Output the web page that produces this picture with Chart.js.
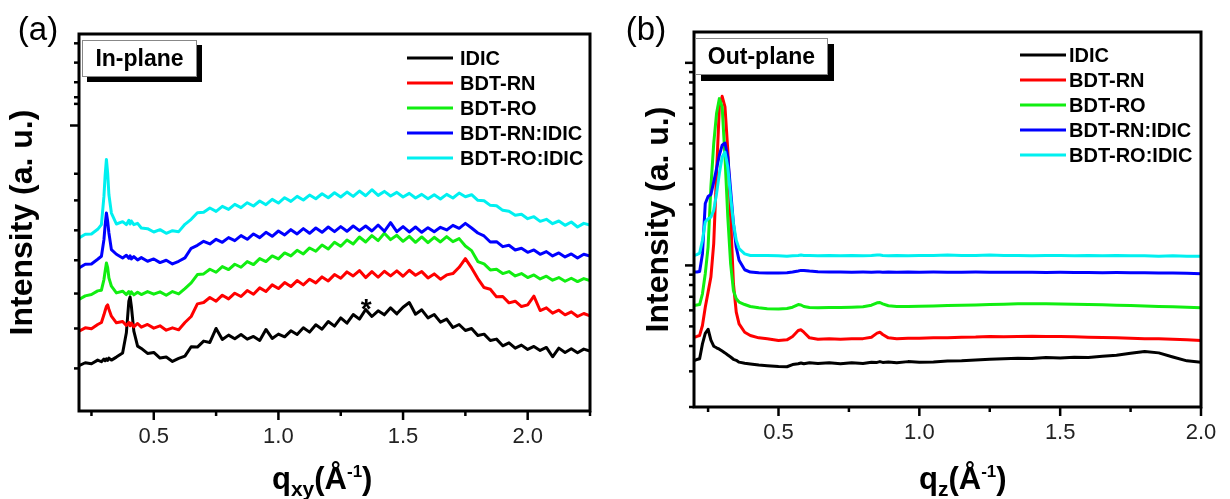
<!DOCTYPE html>
<html>
<head>
<meta charset="utf-8">
<script src="https://cdn.jsdelivr.net/npm/chart.js@4.4.0/dist/chart.umd.min.js"></script>
<style>
  body { margin: 0; background: #fff; }
  .wrap { display: flex; width: 1230px; height: 499px; }
  canvas { display: block; }
</style>
</head>
<body>
<div class="wrap">
  <canvas id="inPlane" width="615" height="499"></canvas>
  <canvas id="outPlane" width="615" height="499"></canvas>
</div>
<script>
// GIWAXS line cuts, in-plane (a) and out-of-plane (b)
var seriesNames = ['IDIC', 'BDT-RN', 'BDT-RO', 'BDT-RN:IDIC', 'BDT-RO:IDIC'];
var seriesColors = ['#000000', '#ff0000', '#11ee11', '#0000ff', '#00f0f0'];

// in-plane q_xy (1/A), finer sampling around the low-q peaks
var qxy = [0.20, 0.225, 0.25, 0.275, 0.29, 0.30, 0.305, 0.31, 0.315, 0.32, 0.33, 0.35, 0.375, 0.39, 0.40, 0.405, 0.41, 0.42, 0.435, 0.45, 0.475, 0.50,
  0.525, 0.55, 0.575, 0.60, 0.625, 0.65, 0.675, 0.70, 0.725, 0.75, 0.775, 0.80, 0.825, 0.85, 0.875, 0.90, 0.925, 0.95, 0.975, 1.00,
  1.025, 1.05, 1.075, 1.10, 1.125, 1.15, 1.175, 1.20, 1.225, 1.25, 1.275, 1.30, 1.325, 1.35, 1.375, 1.40, 1.425, 1.45, 1.475, 1.50,
  1.525, 1.55, 1.575, 1.60, 1.625, 1.65, 1.675, 1.70, 1.725, 1.75, 1.775, 1.80, 1.825, 1.85, 1.875, 1.90, 1.925, 1.95, 1.975, 2.00,
  2.025, 2.05, 2.075, 2.10, 2.125, 2.15, 2.175, 2.20, 2.225, 2.25];

// in-plane intensities (offset stack, a.u.)
var inIdic = [13.6, 14.5, 14.2, 15.3, 14.8, 15.6, 15.1, 15.7, 15.2, 15.9, 15.3, 16.2, 17.4, 23.5, 33.0, 34.3, 31.5, 24.0, 19.5, 18.8, 17.3, 17.6,
  15.9, 16.2, 14.9, 15.8, 16.5, 19.3, 19.2, 21.0, 20.6, 24.8, 21.5, 22.8, 21.7, 23.0, 21.6, 22.4, 21.2, 24.5, 21.8, 23.1,
  22.3, 24.1, 23.0, 25.0, 23.7, 25.9, 24.6, 26.9, 25.5, 28.0, 26.4, 29.0, 27.6, 30.5, 28.4, 30.1, 28.9, 31.0, 29.2, 31.2,
  32.6, 29.1, 30.4, 28.0, 29.0, 26.7, 27.6, 25.1, 26.0, 24.2, 24.8, 22.7, 23.1, 21.2, 21.6, 19.6, 20.5, 18.9, 19.8, 18.5,
  19.4, 18.2, 19.1, 16.3, 18.9, 17.6, 18.7, 17.5, 18.6, 18.0];
var inRN = [24.0, 25.0, 24.7, 26.0, 26.6, 28.9, 30.2, 31.4, 31.9, 30.6, 28.5, 26.5, 26.9, 25.7, 26.6, 25.6, 26.4, 25.3, 26.3, 25.2, 26.0, 24.9,
  25.6, 24.3, 25.0, 24.4, 26.6, 28.4, 32.2, 32.6, 34.1, 33.0, 34.8, 33.7, 35.4, 34.4, 36.2, 35.1, 37.0, 35.9, 37.9, 36.8,
  38.6, 37.4, 39.2, 37.9, 39.6, 38.5, 40.3, 39.1, 41.0, 39.9, 41.8, 40.6, 42.2, 40.1, 41.9, 40.2, 42.0, 40.6, 42.1, 40.5,
  42.3, 40.8, 41.9, 40.0, 41.2, 39.6, 40.9, 41.3, 43.2, 45.8, 43.0, 39.8, 37.1, 36.6, 34.3, 34.4, 32.5, 33.0, 31.4, 31.9,
  34.5, 30.2, 31.0, 29.4, 30.3, 28.9, 29.8, 28.4, 29.3, 28.6];
var inRO = [33.5, 34.6, 35.0, 36.1, 36.3, 39.5, 42.1, 44.5, 43.1, 40.0, 37.5, 35.5, 36.0, 35.0, 35.9, 35.1, 35.8, 34.9, 35.7, 35.0, 35.9, 35.1,
  35.8, 34.8, 35.9, 35.2, 36.8, 38.5, 41.0, 41.2, 42.6, 41.7, 43.4, 42.5, 44.1, 43.2, 44.9, 44.0, 45.8, 44.9, 46.6, 45.7,
  47.5, 46.6, 48.3, 47.2, 49.0, 48.0, 49.9, 48.7, 50.7, 49.5, 51.4, 50.2, 52.3, 50.8, 52.7, 51.2, 53.4, 51.5, 52.8, 51.0,
  52.5, 50.7, 52.3, 50.6, 52.2, 50.8, 52.4, 50.9, 51.8, 49.6, 48.2, 44.9, 44.2, 42.4, 42.6, 41.3, 41.9, 40.6, 41.3, 40.1,
  40.9, 39.7, 40.5, 39.3, 40.1, 39.0, 39.9, 38.9, 39.8, 39.2];
var inRNIdic = [43.0, 44.1, 44.2, 45.6, 46.5, 51.5, 56.0, 59.5, 57.0, 53.5, 48.5, 47.1, 46.0, 46.8, 45.9, 46.6, 45.7, 46.4, 45.4, 46.1, 45.0, 45.7,
  44.6, 45.3, 44.2, 45.0, 46.0, 48.9, 49.8, 51.0, 50.2, 51.6, 50.7, 52.1, 51.2, 52.7, 51.6, 53.2, 52.1, 53.7, 52.5, 54.1,
  52.9, 54.5, 53.2, 54.8, 53.4, 55.0, 53.7, 55.3, 53.9, 55.4, 54.0, 55.6, 54.2, 55.6, 54.1, 55.9, 54.0, 56.6, 53.9, 55.4,
  53.8, 55.3, 53.7, 55.1, 53.9, 55.2, 54.4, 55.8, 54.9, 56.4, 55.0, 53.5, 52.6, 50.8, 50.9, 49.4, 49.8, 48.4, 48.9, 47.7,
  48.4, 47.1, 47.9, 46.6, 47.5, 46.3, 47.2, 46.0, 47.1, 46.6];
var inROIdic = [52.0, 53.1, 53.2, 54.6, 56.0, 64.5, 71.0, 75.6, 71.5, 65.0, 59.5, 56.2, 56.9, 56.0, 57.3, 56.2, 57.1, 56.0, 56.4, 55.0, 54.8, 53.8,
  54.5, 53.4, 54.2, 53.9, 56.1, 57.6, 59.6, 59.7, 61.0, 60.0, 61.5, 60.6, 62.1, 61.1, 62.6, 61.6, 63.1, 62.0, 63.6, 62.5,
  64.1, 63.0, 64.5, 63.4, 64.9, 63.8, 65.3, 64.1, 65.6, 64.3, 65.8, 64.5, 66.1, 64.7, 66.5, 64.8, 66.0, 64.6, 65.7, 64.3,
  65.4, 64.0, 65.1, 63.8, 65.0, 63.7, 65.1, 64.0, 65.5, 64.4, 65.0, 63.3, 63.2, 61.8, 61.7, 60.3, 60.0, 58.8, 59.1, 57.8,
  58.4, 57.0, 57.6, 56.3, 57.1, 55.8, 56.8, 55.3, 56.4, 55.9];

// out-of-plane q_z (1/A)
var qz = [0.20, 0.21, 0.22, 0.23, 0.24, 0.25, 0.26, 0.27, 0.28, 0.29, 0.30, 0.31, 0.32, 0.33, 0.34, 0.35, 0.36, 0.38, 0.40, 0.43, 0.46,
  0.50, 0.53, 0.55, 0.57, 0.58, 0.59, 0.61, 0.64, 0.68, 0.72, 0.76, 0.80, 0.83, 0.85, 0.86, 0.87, 0.89, 0.92, 0.96, 1.00,
  1.05, 1.10, 1.15, 1.20, 1.25, 1.30, 1.35, 1.40, 1.45, 1.50, 1.55, 1.60, 1.65, 1.70, 1.75, 1.80, 1.85, 1.90, 1.95, 2.00];

// out-of-plane intensities (log scale, a.u.)
var outIdic = [0.339, 0.343, 0.346, 0.410, 0.462, 0.484, 0.428, 0.399, 0.392, 0.386, 0.378, 0.370, 0.361, 0.353, 0.344, 0.340, 0.333, 0.329, 0.326, 0.322, 0.320,
  0.317, 0.316, 0.324, 0.327, 0.330, 0.327, 0.331, 0.328, 0.331, 0.327, 0.331, 0.328, 0.333, 0.332, 0.335, 0.332, 0.334, 0.331, 0.335, 0.333,
  0.334, 0.337, 0.338, 0.341, 0.344, 0.346, 0.348, 0.347, 0.351, 0.349, 0.352, 0.351, 0.356, 0.360, 0.368, 0.376, 0.370, 0.353, 0.338, 0.333];
var outRN = [0.442, 0.446, 0.451, 0.505, 0.622, 0.738, 0.876, 1.28, 2.84, 6.06, 6.84, 6.06, 3.70, 1.73, 0.812, 0.588, 0.515, 0.468, 0.451, 0.439, 0.434,
  0.426, 0.429, 0.446, 0.477, 0.481, 0.468, 0.439, 0.432, 0.434, 0.432, 0.434, 0.435, 0.442, 0.463, 0.468, 0.456, 0.439, 0.435, 0.437, 0.437,
  0.439, 0.440, 0.442, 0.443, 0.446, 0.445, 0.446, 0.447, 0.446, 0.446, 0.444, 0.442, 0.441, 0.439, 0.437, 0.435, 0.434, 0.432, 0.429, 0.426];
var outRO = [0.634, 0.638, 0.641, 0.724, 0.910, 1.23, 2.44, 3.99, 5.62, 6.66, 6.06, 3.43, 1.73, 1.02, 0.752, 0.684, 0.659, 0.641, 0.627, 0.618, 0.611,
  0.609, 0.613, 0.622, 0.641, 0.638, 0.627, 0.620, 0.618, 0.619, 0.620, 0.622, 0.625, 0.636, 0.654, 0.656, 0.646, 0.632, 0.627, 0.627, 0.629,
  0.631, 0.634, 0.636, 0.638, 0.641, 0.643, 0.646, 0.646, 0.646, 0.645, 0.643, 0.641, 0.639, 0.636, 0.634, 0.630, 0.627, 0.625, 0.622, 0.618];
var outRNIdic = [0.927, 0.927, 0.934, 1.14, 2.02, 2.19, 2.24, 2.58, 3.00, 3.50, 3.92, 4.02, 3.43, 2.35, 1.61, 1.23, 1.06, 0.952, 0.927, 0.920, 0.917,
  0.917, 0.920, 0.927, 0.938, 0.945, 0.945, 0.938, 0.930, 0.927, 0.928, 0.926, 0.927, 0.926, 0.928, 0.927, 0.926, 0.927, 0.925, 0.927, 0.926,
  0.927, 0.925, 0.926, 0.927, 0.925, 0.926, 0.924, 0.925, 0.923, 0.924, 0.922, 0.923, 0.921, 0.922, 0.920, 0.921, 0.918, 0.917, 0.914, 0.910];
var outROIdic = [1.12, 1.13, 1.15, 1.33, 1.64, 1.70, 1.73, 1.87, 2.26, 2.84, 3.43, 3.63, 3.06, 2.18, 1.61, 1.33, 1.21, 1.14, 1.12, 1.12, 1.12,
  1.115, 1.11, 1.115, 1.12, 1.125, 1.12, 1.12, 1.115, 1.12, 1.115, 1.12, 1.115, 1.12, 1.125, 1.125, 1.12, 1.115, 1.12, 1.115, 1.12,
  1.12, 1.125, 1.12, 1.12, 1.125, 1.12, 1.12, 1.115, 1.12, 1.12, 1.115, 1.12, 1.115, 1.12, 1.115, 1.115, 1.11, 1.115, 1.11, 1.11];

// axis ticks
var inXTicks = [0.25, 0.5, 0.75, 1.0, 1.25, 1.5, 1.75, 2.0, 2.25];
var outXTicks = [0.25, 0.5, 0.75, 1.0, 1.25, 1.5, 1.75, 2.0];
var inYTicks = [12.8, 24.8, 35.3, 45.3, 54.3, 63.3, 71.3, 85.8, 92.3, 94.3, 98.8, 104.7, 110.5];
var outYTicks = [0.2, 0.3, 0.4, 0.5, 0.6, 0.7, 0.8, 0.9, 1, 2, 3, 4, 5, 6, 7, 8, 9, 10];

var FONT = '"Liberation Sans", Arial, sans-serif';

function buildDatasets(xs, seriesList, width) {
  return seriesList.map(function (vals, i) {
    return {
      label: seriesNames[i],
      data: xs.map(function (q, j) { return { x: q, y: vals[j] }; }),
      borderColor: seriesColors[i],
      backgroundColor: seriesColors[i],
      borderWidth: width,
      borderJoinStyle: 'round',
      pointRadius: 0,
      tension: 0,
      fill: false,
      order: -i
    };
  });
}

function strokeLine(ctx, x1, y1, x2, y2) {
  ctx.beginPath();
  ctx.moveTo(x1, y1);
  ctx.lineTo(x2, y2);
  ctx.stroke();
}

// text runs with sub/superscripts, left to right from x
function drawRuns(ctx, x, y, runs) {
  runs.forEach(function (r) {
    ctx.font = 'bold ' + r[1] + 'px ' + FONT;
    ctx.fillText(r[0], x, y + r[2]);
    x += ctx.measureText(r[0]).width;
  });
}

// frame, tick marks, legend, label box and axis title
var decor = {
  id: 'decor',
  afterDraw: function (chart, args, o) {
    var ctx = chart.ctx, a = chart.chartArea;
    var xs = chart.scales.x, ys = chart.scales.y;
    ctx.save();
    ctx.strokeStyle = '#000';
    ctx.fillStyle = '#000';

    ctx.lineWidth = 2.5;
    xs.ticks.forEach(function (t) {
      var px = xs.getPixelForValue(t.value);
      strokeLine(ctx, px, a.bottom, px, a.bottom + (t.label ? 9 : 5));
    });
    ys.ticks.forEach(function (t) {
      var py = ys.getPixelForValue(t.value);
      var major = o.yMajor.indexOf(t.value) >= 0;
      strokeLine(ctx, a.left, py, a.left - (major ? 9 : 5), py);
    });

    ctx.lineWidth = 3;
    ctx.strokeRect(a.left, a.top, a.right - a.left, a.bottom - a.top);

    // panel letter
    ctx.font = '33px ' + FONT;
    ctx.textAlign = 'center';
    ctx.textBaseline = 'middle';
    ctx.fillText(o.panel, o.panelX, o.panelY);

    // label box with drop shadow
    var b = o.box;
    ctx.fillRect(b.x + b.shadow, b.y + b.shadow, b.w, b.h);
    ctx.fillStyle = '#fff';
    ctx.fillRect(b.x, b.y, b.w, b.h);
    ctx.lineWidth = 1;
    ctx.strokeStyle = '#888';
    ctx.strokeRect(b.x + 0.5, b.y + 0.5, b.w - 1, b.h - 1);
    ctx.fillStyle = '#000';
    ctx.font = 'bold 23px ' + FONT;
    ctx.fillText(b.text, b.x + b.w / 2, b.y + b.h / 2 + 1);

    // legend
    var lg = o.legend;
    ctx.textAlign = 'left';
    ctx.font = 'bold 20px ' + FONT;
    chart.data.datasets.forEach(function (ds, i) {
      var y = lg.y0 + i * lg.dy;
      ctx.strokeStyle = ds.borderColor;
      ctx.lineWidth = 3;
      strokeLine(ctx, lg.lineX, y, lg.lineX + 46, y);
      ctx.fillStyle = '#000';
      ctx.fillText(ds.label, lg.textX, y + 1);
    });

    if (o.star) {
      ctx.font = 'bold 28px ' + FONT;
      ctx.textAlign = 'center';
      ctx.fillText('*', xs.getPixelForValue(o.star.x), ys.getPixelForValue(o.star.y) + 7);
    }

    // x axis title
    ctx.textAlign = 'left';
    ctx.textBaseline = 'alphabetic';
    drawRuns(ctx, o.xTitle.x, o.xTitle.y, [['q', 31, 0], [o.xTitle.sub, 21, 7], ['(Å', 31, 0], ['-1', 17, -12], [')', 31, 0]]);
    ctx.restore();
  }
};

function halfLabel(v) {
  return Math.abs(v * 2 - Math.round(v * 2)) < 1e-6 ? v.toFixed(1) : '';
}

function makeChart(id, xs, seriesList, lineW, xRange, xTicks, yScale, pad, xHeight, deco) {
  return new Chart(document.getElementById(id), {
    type: 'line',
    data: { datasets: buildDatasets(xs, seriesList, lineW) },
    options: {
      responsive: false,
      animation: false,
      devicePixelRatio: 1,
      layout: { padding: pad },
      plugins: { legend: { display: false }, tooltip: { enabled: false }, decor: deco },
      scales: {
        x: {
          type: 'linear',
          min: xRange[0],
          max: xRange[1],
          grid: { display: false, drawTicks: false },
          border: { display: false },
          afterBuildTicks: function (s) { s.ticks = xTicks.map(function (v) { return { value: v }; }); },
          afterFit: function (s) { s.height = xHeight; },
          ticks: {
            autoSkip: false,
            maxRotation: 0,
            padding: 13,
            color: '#222',
            font: { family: FONT, size: 22 },
            callback: halfLabel
          }
        },
        y: yScale
      }
    },
    plugins: [decor]
  });
}

makeChart('inPlane', qxy, [inIdic, inRN, inRO, inRNIdic, inROIdic], 3, [0.2, 2.25], inXTicks, {
  type: 'linear',
  min: 0,
  max: 113.3,
  grid: { display: false, drawTicks: false },
  border: { display: false },
  ticks: { display: false },
  afterBuildTicks: function (s) { s.ticks = inYTicks.map(function (v) { return { value: v }; }); },
  afterFit: function (s) { s.width = 79; },
  title: { display: true, text: 'Intensity (a. u.)', color: '#000', font: { family: FONT, size: 32, weight: 'bold' }, padding: { top: 4, bottom: 0 } }
}, { top: 34, right: 25, left: 0, bottom: 0 }, 88, {
  panel: '(a)', panelX: 38, panelY: 31,
  box: { x: 82, y: 40, w: 115, h: 37, shadow: 5, text: 'In-plane' },
  legend: { lineX: 407, textX: 460, y0: 58, dy: 25 },
  xTitle: { x: 272, y: 489, sub: 'xy' },
  yMajor: [85.8],
  star: { x: 1.352, y: 32.4 }
});

makeChart('outPlane', qz, [outIdic, outRN, outRO, outRNIdic, outROIdic], 3, [0.2, 2.0], outXTicks, {
  type: 'logarithmic',
  min: 0.2,
  max: 14.2,
  grid: { display: false, drawTicks: false },
  border: { display: false },
  ticks: { display: false },
  afterBuildTicks: function (s) { s.ticks = outYTicks.map(function (v) { return { value: v }; }); },
  afterFit: function (s) { s.width = 79; },
  title: { display: true, text: 'Intensity (a. u.)', color: '#000', font: { family: FONT, size: 32, weight: 'bold' }, padding: { top: 25, bottom: 0 } }
}, { top: 32, right: 29, left: 0, bottom: 0 }, 92, {
  panel: '(b)', panelX: 31, panelY: 31,
  box: { x: 80, y: 38, w: 133, h: 37, shadow: 6, text: 'Out-plane' },
  legend: { lineX: 405, textX: 454, y0: 55, dy: 25 },
  xTitle: { x: 304, y: 489, sub: 'z' },
  yMajor: [1, 10]
});
</script>
</body>
</html>
